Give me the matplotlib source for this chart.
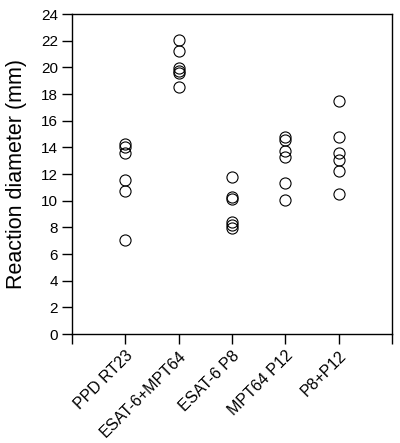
import matplotlib
matplotlib.use("Agg")
import matplotlib.pyplot as plt

plt.rcParams['font.family'] = ['Liberation Sans', 'DejaVu Sans']

categories = ["PPD RT23", "ESAT-6+MPT64", "ESAT-6 P8", "MPT64 P12", "P8+P12"]
ppd_rt23 = [14.25, 14.0, 13.55, 11.55, 10.75, 7.05]
esat6_mpt64 = [22.05, 21.25, 19.95, 19.75, 19.55, 18.5]
esat6_p8 = [11.75, 10.3, 10.1, 8.4, 8.15, 7.95]
mpt64_p12 = [14.8, 14.55, 13.75, 13.25, 11.3, 10.05]
p8_p12 = [17.5, 14.75, 13.55, 13.05, 12.25, 10.5]
series = [ppd_rt23, esat6_mpt64, esat6_p8, mpt64_p12, p8_p12]
yticks = list(range(0, 25, 2))

fig = plt.figure(figsize=(4.0, 4.43), dpi=100)
ax = fig.add_axes([0.18, 0.246, 0.80, 0.722])

for i, vals in enumerate(series, start=1):
    ax.plot([i] * len(vals), vals, linestyle='none', marker='o', markersize=8,
            markerfacecolor='none', markeredgecolor='black', markeredgewidth=0.8)

ax.set_xlim(0, 6)
ax.set_ylim(0, 24)
ax.set_xticks(range(0, 7))
ax.set_xticklabels([""] + categories + [""], rotation=45, ha='right',
                   rotation_mode='anchor', fontsize=11.5)
ax.set_yticks(yticks)
ax.set_yticklabels([str(t) for t in yticks], fontsize=11)
ax.tick_params(direction='out', length=7, width=1, pad=3)
for s in ax.spines.values():
    s.set_linewidth(1)
ax.set_ylabel("Reaction diameter (mm)", fontsize=15.5, labelpad=10)

fig.savefig("out.png", dpi=100)
